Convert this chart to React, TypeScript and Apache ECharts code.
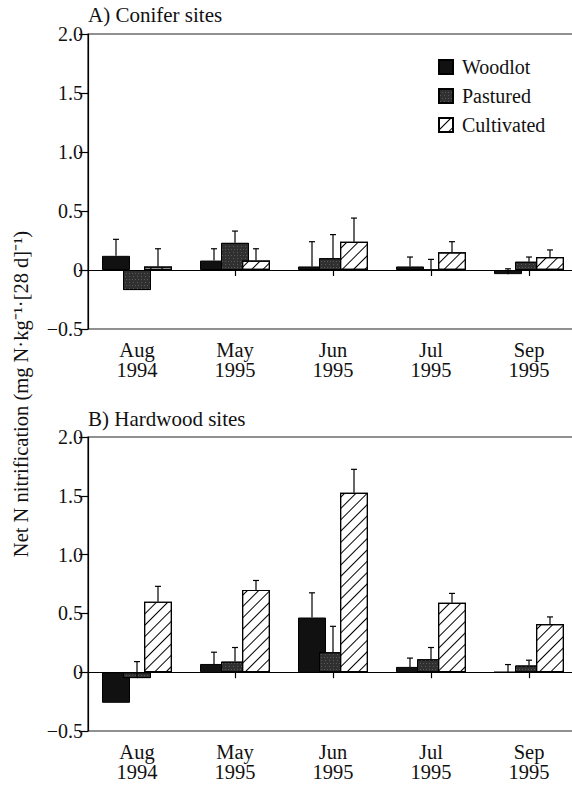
import React, { useEffect, useRef } from "react";
import * as echarts from "echarts";

const categories = ["Aug\n1994", "May\n1995", "Jun\n1995", "Jul\n1995", "Sep\n1995"];
const yTicks = { min: -0.5, max: 2.0, interval: 0.5 };

// Panel A – Conifer sites
const coniferWoodlot = [0.12, 0.08, 0.03, 0.03, -0.035];
const coniferWoodlotSE = [0.14, 0.1, 0.21, 0.08, 0.045];
const coniferPastured = [-0.17, 0.23, 0.1, 0.0, 0.07];
const coniferPasturedSE = [0, 0.1, 0.2, 0.09, 0.04];
const coniferCultivated = [0.03, 0.08, 0.24, 0.15, 0.11];
const coniferCultivatedSE = [0.15, 0.1, 0.2, 0.09, 0.06];

// Panel B – Hardwood sites
const hardwoodWoodlot = [-0.26, 0.07, 0.465, 0.045, 0.0];
const hardwoodWoodlotSE = [0, 0.1, 0.21, 0.075, 0.065];
const hardwoodPastured = [-0.05, 0.09, 0.17, 0.11, 0.057];
const hardwoodPasturedSE = [0.14, 0.12, 0.22, 0.1, 0.045];
const hardwoodCultivated = [0.6, 0.7, 1.525, 0.59, 0.41];
const hardwoodCultivatedSE = [0.13, 0.08, 0.2, 0.08, 0.06];

const groupNames = ["Woodlot", "Pastured", "Cultivated"];

const FONT = "Liberation Serif";
const BAR_W = 28;
const BAR_STEP = 21;

const styles: any[] = [
  { color: "#111", borderColor: "#000", borderWidth: 1 },
  {
    color: "#303030",
    borderColor: "#000",
    borderWidth: 1,
    decal: {
      symbol: "rect",
      color: "rgba(130,130,130,0.5)",
      dashArrayX: [[1, 2], [0, 1, 1, 2]],
      dashArrayY: [1, 2],
      symbolSize: 1,
      rotation: 0,
    },
  },
  {
    color: "#fff",
    borderColor: "#000",
    borderWidth: 1.2,
    decal: {
      symbol: "rect",
      color: "#000",
      backgroundColor: "#fff",
      dashArrayX: [1, 0],
      dashArrayY: [1, 7],
      symbolSize: 1,
      rotation: -Math.PI / 4,
    },
  },
];

export default function App() {
  const ref = useRef<HTMLDivElement>(null);
  useEffect(() => {
    if (!ref.current) return;
    const chart = echarts.init(ref.current, undefined, { renderer: "svg" });

    const panels = [
      { values: [coniferWoodlot, coniferPastured, coniferCultivated], se: [coniferWoodlotSE, coniferPasturedSE, coniferCultivatedSE] },
      { values: [hardwoodWoodlot, hardwoodPastured, hardwoodCultivated], se: [hardwoodWoodlotSE, hardwoodPasturedSE, hardwoodCultivatedSE] },
    ];

    const grids = [
      { left: 88, top: 34, width: 490, height: 295 },
      { left: 88, top: 437, width: 490, height: 294 },
    ].map((g) => ({
      ...g,
      show: true,
      borderColor: "#222",
      borderWidth: 1.2,
      backgroundColor: "transparent",
      containLabel: false,
      outerBoundsMode: "none",
    }));

    const xAxes = grids.map((_, i) => ({
      type: "category",
      gridIndex: i,
      data: categories,
      boundaryGap: true,
      axisLine: { show: false },
      axisTick: { show: true, alignWithLabel: true, length: 6, lineStyle: { color: "#000", width: 1.2 } },
      axisLabel: { show: true, fontFamily: FONT, fontSize: 20.5, color: "#111", lineHeight: 20, margin: 11 },
      splitLine: { show: false },
    }));

    const yAxes = grids.map((_, i) => ({
      type: "value",
      gridIndex: i,
      min: yTicks.min,
      max: yTicks.max,
      interval: yTicks.interval,
      axisLine: { show: true, lineStyle: { color: "#000", width: 1.2 } },
      axisTick: { show: true, inside: false, length: 9, lineStyle: { color: "#000", width: 1.2 } },
      axisLabel: {
        fontFamily: FONT,
        fontSize: 20,
        color: "#111",
        margin: 5,
        formatter: (v: number) => (Math.abs(v) < 1e-9 ? "0" : v.toFixed(1).replace("-", "\u2212")),
      },
      splitLine: { show: false },
    }));

    const series: any[] = [];
    panels.forEach((p, pi) => {
      p.values.forEach((vals, gi) => {
        const s: any = {
          type: "bar",
          name: groupNames[gi],
          xAxisIndex: pi,
          yAxisIndex: pi,
          data: vals,
          barWidth: BAR_W,
          barGap: "-25%",
          itemStyle: styles[gi],
          z: 2 + gi,
        };
        if (gi === 2) {
          s.markLine = {
            silent: true,
            symbol: ["none", "none"],
            label: { show: false },
            lineStyle: { color: "#000", type: "solid", width: 1.2 },
            data: [{ yAxis: 0 }],
            z: 10,
          };
        }
        series.push(s);
      });
      p.values.forEach((vals, gi) => {
        const data = vals.map((v, k) => [k, v, v + p.se[gi][k], p.se[gi][k]]);
        series.push({
          type: "custom",
          name: groupNames[gi] + " SE",
          xAxisIndex: pi,
          yAxisIndex: pi,
          data,
          z: 8,
          silent: true,
          renderItem: (params: any, api: any) => {
            if (api.value(3) <= 0) return null;
            const idx = api.value(0);
            const base = api.coord([idx, api.value(1)]);
            const top = api.coord([idx, api.value(2)]);
            const x = base[0] + (gi - 1) * BAR_STEP;
            const st = { stroke: "#000", lineWidth: 1.2 };
            return {
              type: "group",
              children: [
                { type: "line", shape: { x1: x, y1: base[1], x2: x, y2: top[1] }, style: st },
                { type: "line", shape: { x1: x - 3, y1: top[1], x2: x + 3, y2: top[1] }, style: st },
              ],
            };
          },
        });
      });
    });

    chart.setOption({
      animation: false,
      backgroundColor: "#fff",
      textStyle: { fontFamily: FONT },
      grid: grids,
      xAxis: xAxes,
      yAxis: yAxes,
      legend: {
        data: groupNames,
        orient: "vertical",
        left: 433,
        top: 52,
        itemWidth: 14,
        itemHeight: 14,
        itemGap: 9,
        icon: "rect",
        textStyle: { fontFamily: FONT, fontSize: 20, color: "#111", padding: [0, 0, 0, 4] },
      },
      graphic: [
        { type: "text", left: 88, top: 4, style: { text: "A) Conifer sites", fontFamily: FONT, fontSize: 21, fill: "#111" } },
        { type: "text", left: 88, top: 408, style: { text: "B) Hardwood sites", fontFamily: FONT, fontSize: 21, fill: "#111" } },
        {
          type: "text",
          x: 21,
          y: 394,
          rotation: Math.PI / 2,
          style: {
            text: "Net N nitrification (mg N\u00b7kg\u207b\u00b9\u00b7[28 d]\u207b\u00b9)",
            fontFamily: FONT,
            fontSize: 20.5,
            fill: "#111",
            align: "center",
            verticalAlign: "middle",
          },
        },
      ],
      series,
    });
    return () => chart.dispose();
  }, []);
  return <div ref={ref} style={{ position: "absolute", left: 0, top: 0, width: 572, height: 785 }} />;
}
